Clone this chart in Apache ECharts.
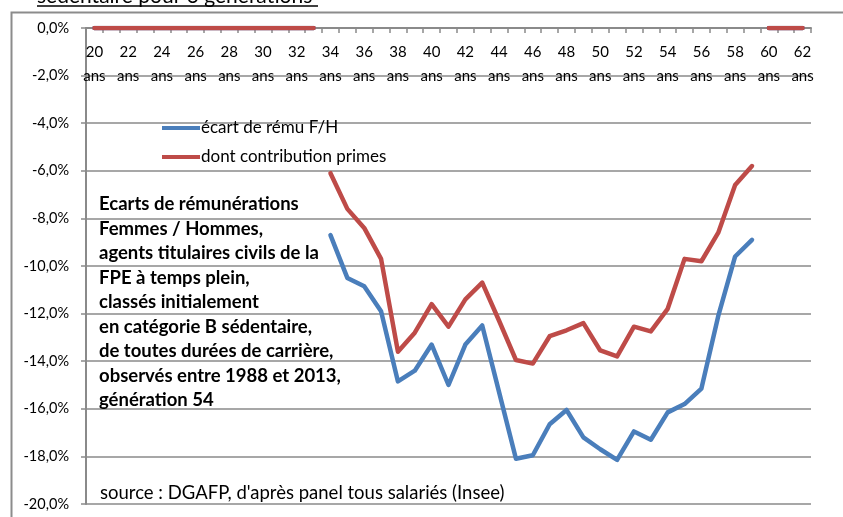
<!DOCTYPE html>
<html>
<head>
<meta charset="utf-8">
<script src="https://cdn.jsdelivr.net/npm/echarts@6/dist/echarts.min.js"></script>
<style>html,body{margin:0;padding:0;background:#fff}#c{width:843px;height:517px}</style>
</head>
<body>
<div id="c"></div>
<script>
// Ages (categories) 20..62
var ages = [20,21,22,23,24,25,26,27,28,29,30,31,32,33,34,35,36,37,38,39,40,41,42,43,44,45,46,47,48,49,50,51,52,53,54,55,56,57,58,59,60,61,62];
// Ages with zero values (flat segments on the 0% line)
var zeroAges = [20,21,22,23,24,25,26,27,28,29,30,31,32,33,60,61,62];
// Ages with observed values
var obsAges = [34,35,36,37,38,39,40,41,42,43,44,45,46,47,48,49,50,51,52,53,54,55,56,57,58,59];
// écart de rému F/H (%)
var ecartRemu = [-8.7,-10.5,-10.85,-11.9,-14.85,-14.4,-13.3,-15.0,-13.3,-12.5,-15.3,-18.1,-17.95,-16.65,-16.05,-17.2,-17.7,-18.15,-16.95,-17.3,-16.15,-15.8,-15.15,-12.1,-9.6,-8.9];
// dont contribution primes (%)
var contribPrimes = [-6.1,-7.6,-8.4,-9.7,-13.6,-12.8,-11.6,-12.55,-11.4,-10.7,-12.3,-13.95,-14.1,-12.95,-12.7,-12.4,-13.55,-13.8,-12.55,-12.75,-11.8,-9.7,-9.8,-8.6,-6.6,-5.8];

var seriesNames = ['écart de rému F/H', 'dont contribution primes'];
var annotation = ['Ecarts de rémunérations','Femmes / Hommes,','agents titulaires civils de la','FPE à temps plein,','classés initialement','en catégorie B sédentaire,','de toutes durées de carrière,','observés entre 1988 et 2013,','génération 54'];
var sourceText = "source : DGAFP, d'après panel tous salariés (Insee)";
var topTitle = 'sédentaire pour 3 générations';

var cats = ages.map(function(a){ return a + '\nans'; });
function buildObs(vals){
  return ages.map(function(a){ var i = obsAges.indexOf(a); return i >= 0 ? vals[i] : null; });
}
var zeroData = ages.map(function(a){ return zeroAges.indexOf(a) >= 0 ? 0 : null; });

var FONT = 'Lato';
var BLUE = '#4A7EBB', RED = '#BE4B48', GRAY = '#8a8a8a';

var chart = echarts.init(document.getElementById('c'), null, {renderer:'canvas'});
chart.setOption({
  animation: false,
  textStyle: {fontFamily: FONT},
  grid: {left: 86, right: 32, top: 28, bottom: 13, containLabel: false},
  legend: {
    data: seriesNames,
    orient: 'vertical',
    left: 162, top: 118, padding: 0,
    itemWidth: 38, itemHeight: 4, itemGap: 9,
    icon: 'rect',
    textStyle: {fontSize: 17, lineHeight: 20, color: '#000', fontFamily: FONT, padding: [0,0,0,-4]}
  },
  xAxis: {
    type: 'category',
    position: 'top',
    data: cats,
    boundaryGap: true,
    axisLine: {show: true, lineStyle: {color: GRAY, width: 2}},
    axisTick: {show: true, inside: true, length: 5, interval: 0, lineStyle: {color: GRAY, width: 1.5}},
    axisLabel: {inside: true, interval: 1, margin: 12, fontSize: 15, lineHeight: 24, color: '#000', fontFamily: FONT},
    splitLine: {show: false}
  },
  yAxis: {
    type: 'value',
    min: -20, max: 0, interval: 2,
    axisLine: {show: true, lineStyle: {color: GRAY, width: 2}},
    axisTick: {show: true, length: 5, lineStyle: {color: GRAY, width: 1.5}},
    axisLabel: {fontSize: 14.5, color: '#000', margin: 17, fontFamily: FONT,
      formatter: function(v){ return v.toFixed(1).replace('.', ',') + '%'; }},
    splitLine: {show: true, lineStyle: {color: GRAY, width: 1.5}}
  },
  series: [
    {name: seriesNames[0], type: 'line', data: buildObs(ecartRemu), symbol: 'none', connectNulls: false,
     itemStyle: {color: BLUE}, lineStyle: {color: BLUE, width: 4.5, join: 'round', cap: 'round'}, z: 3},
    {name: seriesNames[1], type: 'line', data: buildObs(contribPrimes), symbol: 'none', connectNulls: false,
     itemStyle: {color: RED}, lineStyle: {color: RED, width: 4.5, join: 'round', cap: 'round'}, z: 4},
    {name: 'zeroBlue', type: 'line', data: zeroData, symbol: 'none', connectNulls: false,
     lineStyle: {color: BLUE, width: 4.5, cap: 'round'}, z: 5},
    {name: 'zeroRed', type: 'line', data: zeroData, symbol: 'none', connectNulls: false,
     lineStyle: {color: RED, width: 4.5, cap: 'round'}, z: 6}
  ],
  graphic: [
    {type: 'rect', left: 9, top: 10, shape: {width: 900, height: 600}, silent: true,
     style: {fill: 'none', stroke: '#8c8c8c', lineWidth: 2}, z: -1},
    {type: 'text', left: 37, top: -14, style: {text: topTitle, font: '21px ' + FONT, fill: '#000'}},
    {type: 'line', shape: {x1: 37, y1: 6, x2: 318, y2: 6}, style: {stroke: '#000', lineWidth: 1.5}},
    {type: 'text', left: 99, top: 192, z: 10,
     style: {text: annotation.join('\n'), font: 'bold 18.5px ' + FONT, lineHeight: 24.5, fill: '#000'}},
    {type: 'text', left: 100, top: 484, z: 10,
     style: {text: sourceText, font: '18.5px ' + FONT, fill: '#000'}}
  ]
});
</script>
</body>
</html>
